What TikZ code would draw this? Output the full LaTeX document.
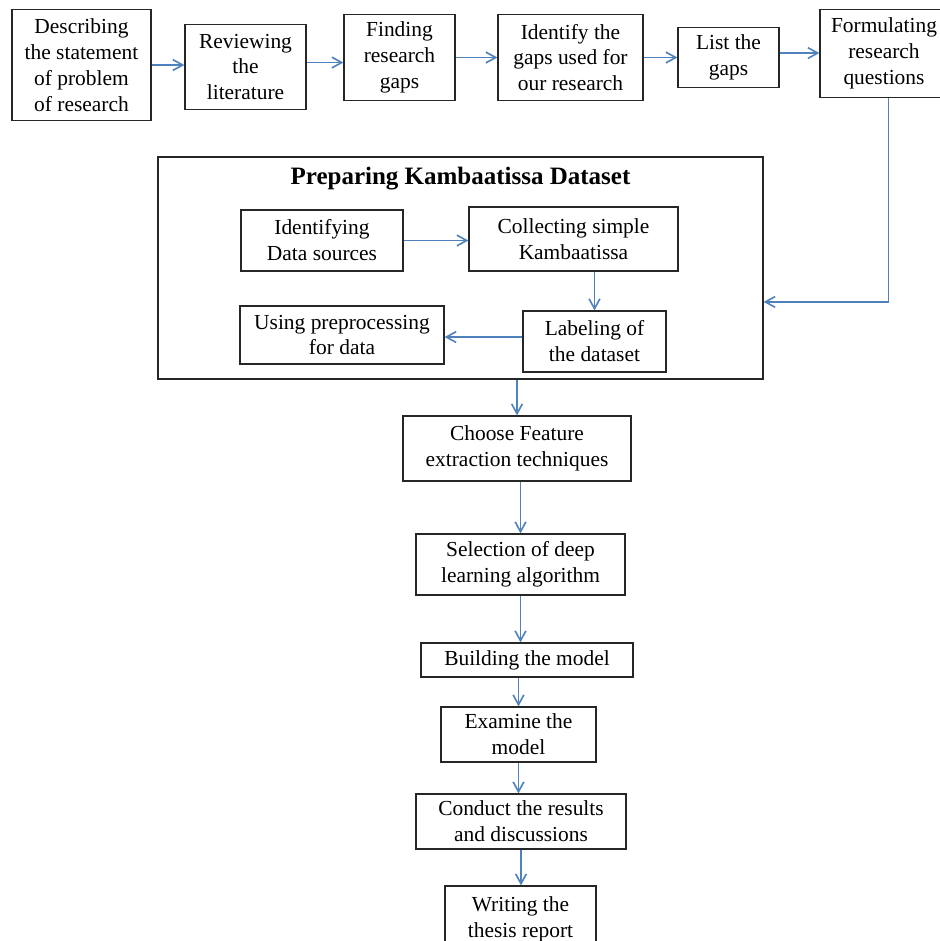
\documentclass[tikz,border=0pt]{standalone}
\usepackage{fontspec}
\setmainfont{Liberation Serif}
\usepackage{xcolor}
\usepackage{tikz}
\usetikzlibrary{arrows.meta, positioning}
\definecolor{linkblue}{RGB}{79,129,189}

\begin{document}
\begin{tikzpicture}[
        x=0.56pt, y=-0.56pt,
        box/.style={rectangle, draw=black!85, line width=0.7pt, align=center, inner sep=0pt,
            font=\fontsize{12}{14.5}\selectfont},
        sz/.style 2 args={minimum width=#1*0.56pt, minimum height=#2*0.56pt},
        link/.style={draw=linkblue, line width=0.9pt, -{Straight Barb[length=5.5pt, width=6pt]}},
        >={Straight Barb[length=5.5pt, width=6pt]}
    ]
        \path [use as bounding box, fill=white] (0,0) rectangle (940,941);

        % Top row of research steps
        \node (desc) [box, sz={139}{111}] at (81.5,65) {Describing\\the statement\\of problem\\of research};
        \node (review) [box, sz={121}{85}] at (245.5,67) {Reviewing\\the\\literature};
        \node (find) [box, sz={111}{86}] at (399.5,57.5) {Finding\\research\\gaps};
        \node (gaps) [box, sz={145}{86}] at (570.5,57.5) {Identify the\\gaps used for\\our research};
        \node (list) [box, sz={101}{60}] at (728.5,57.5) {List the\\gaps};
        \node (form) [box, sz={128}{88}] at (884,53.5) {Formulating\\research\\questions};

        % Dataset preparation block
        \node (prep) [box, sz={605}{222}] at (460.5,268) {};
        \node (title) [font=\fontsize{14}{17}\selectfont\bfseries] at (460.5,179) {Preparing Kambaatissa Dataset};
        \node (ident) [box, sz={162}{61}] at (322,240.5) {Identifying\\Data sources};
        \node (collect) [box, sz={209}{64}] at (573.5,239) {Collecting simple\\Kambaatissa};
        \node (label) [box, sz={143}{61}] at (594.5,341.5) {Labeling of\\the dataset};
        \node (using) [box, sz={204}{58}] at (342,335) {Using preprocessing\\for data};

        % Main vertical flow
        \node (choose) [box, sz={228}{65}] at (517,448.5) {Choose Feature\\extraction techniques};
        \node (select) [box, sz={209}{61}] at (520.5,564.5) {Selection of deep\\learning algorithm};
        \node (build) [box, sz={212}{34}] at (527,660) {Building the model};
        \node (exam) [box, sz={155}{55}] at (518.5,734.5) {Examine the\\model};
        \node (conduct) [box, sz={210}{55}] at (521,821.5) {Conduct the results\\and discussions};
        \node (write) [box, sz={151}{66}] at (520.5,919) {Writing the\\thesis report};

        % Connect top row
        \draw [link] (desc.east) -- (desc.east -| review.west);
        \draw [link] ([yshift=2.5pt]review.east) -- ([yshift=2.5pt]review.east -| find.west);
        \draw [link] (find) -- (gaps);
        \draw [link] (gaps) -- (list);
        \draw [link] ([yshift=2.5pt]list.east) -- ([yshift=2.5pt]list.east -| form.west);
        \draw [link] ([xshift=2.5pt]form.south) |- ([yshift=-19pt]prep.east);

        % Inside the dataset block
        \draw [link] (ident.east) -- (ident.east -| collect.west);
        \draw [link] (label.north |- collect.south) -- (label.north);
        \draw [link] ([yshift=2.5pt]label.west) -- ([yshift=2.5pt]label.west -| using.east);

        % Connect main flow
        \draw [link] (prep.south -| choose) -- (choose);
        \draw [link] (choose.south -| select) -- (select);
        \draw [link] (select) -- (select |- build.north);
        \draw [link] (build.south -| exam) -- (exam);
        \draw [link] (exam) -- (exam |- conduct.north);
        \draw [link] (conduct) -- (conduct |- write.north);
    \end{tikzpicture}
\end{document}
